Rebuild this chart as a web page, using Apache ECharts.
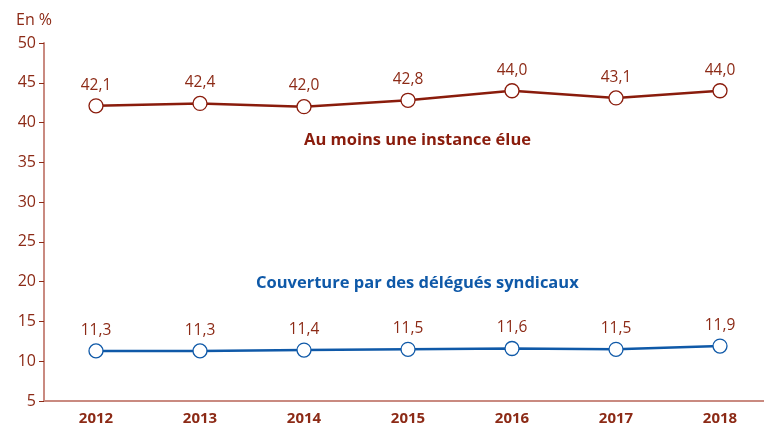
<!DOCTYPE html>
<html>
<head>
<meta charset="utf-8">
<title>Instances représentatives</title>
<script src="https://cdn.jsdelivr.net/npm/echarts@6/dist/echarts.min.js"></script>
<style>
html, body { margin: 0; padding: 0; background: #fff; }
#chart { width: 764px; height: 426px; }
</style>
</head>
<body>
<div id="chart"></div>
<script>
var years = ['2012', '2013', '2014', '2015', '2016', '2017', '2018'];
var instanceElue = [42.1, 42.4, 42.0, 42.8, 44.0, 43.1, 44.0];
var delegues = [11.3, 11.3, 11.4, 11.5, 11.6, 11.5, 11.9];
var nomInstance = 'Au moins une instance élue';
var nomDelegues = 'Couverture par des délégués syndicaux';

var rouge = '#8a1c0c';
var bleu = '#0f59a8';
var texte = '#8c2a16';
var axe = '#c98a80';
var police = '"Open Sans", "Noto Sans", sans-serif';

function virgule(p) {
	return p.value.toFixed(1).replace('.', ',');
}

function serie(nom, data, couleur) {
	return {
		name: nom,
		type: 'line',
		data: data,
		symbol: 'circle',
		symbolSize: 14,
		lineStyle: { color: couleur, width: 2.5 },
		itemStyle: { color: '#fff', borderColor: couleur, borderWidth: 1.3 },
		label: {
			show: true,
			position: 'top',
			distance: 5,
			color: texte,
			fontFamily: police,
			fontSize: 15.5,
			formatter: virgule
		},
		emphasis: { disabled: true },
		z: 3
	};
}

var myChart = echarts.init(document.getElementById('chart'));
var option = {
	animation: false,
	textStyle: { fontFamily: police },
	grid: { left: 44, top: 43, width: 728, height: 358, outerBoundsMode: 'none', containLabel: false },
	xAxis: {
		type: 'category',
		data: years,
		boundaryGap: true,
		axisLine: { lineStyle: { color: axe, width: 2 } },
		axisTick: { length: 5, lineStyle: { color: '#8c2a16', width: 1 } },
		axisLabel: { color: texte, fontSize: 15, fontWeight: 'bold', margin: 10, fontFamily: police }
	},
	yAxis: {
		type: 'value',
		min: 5,
		max: 50,
		interval: 5,
		axisLine: { show: true, lineStyle: { color: axe, width: 2 } },
		axisTick: { show: true, length: 5, lineStyle: { color: '#8c2a16', width: 1 } },
		splitLine: { show: false },
		axisLabel: { color: texte, fontSize: 16, margin: 8, fontFamily: police }
	},
	graphic: [
		{ type: 'text', left: 16, top: 12, style: { text: 'En %', fill: texte, font: '16px ' + police } },
		{ type: 'text', left: 304, top: 132, style: { text: nomInstance, fill: rouge, font: 'bold 16.5px ' + police } },
		{ type: 'text', left: 256, top: 275, style: { text: nomDelegues, fill: bleu, font: 'bold 16.5px ' + police } }
	],
	series: [
		serie(nomInstance, instanceElue, rouge),
		serie(nomDelegues, delegues, bleu)
	]
};
myChart.setOption(option);
</script>
</body>
</html>
